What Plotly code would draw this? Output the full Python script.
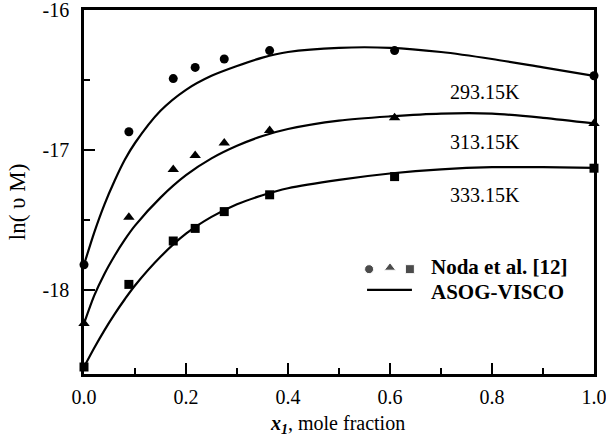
import plotly.graph_objects as go

# Experimental data (Noda et al. [12])
x_exp = [0.0, 0.088, 0.175, 0.218, 0.275, 0.364, 0.609, 1.0]
y_exp_293 = [-17.82, -16.87, -16.49, -16.41, -16.35, -16.29, -16.29, -16.47]
y_exp_313 = [-18.24, -17.48, -17.14, -17.04, -16.95, -16.86, -16.77, -16.81]
y_exp_333 = [-18.55, -17.96, -17.65, -17.56, -17.44, -17.32, -17.19, -17.13]

# ASOG-VISCO calculated curves
x_calc = [0.0, 0.02, 0.04, 0.06, 0.08, 0.10, 0.15, 0.20, 0.25, 0.30, 0.35, 0.40,
          0.50, 0.60, 0.70, 0.80, 0.90, 1.00]
y_calc_293 = [-17.82, -17.59, -17.39, -17.22, -17.07, -16.95, -16.72, -16.57, -16.47,
              -16.40, -16.34, -16.30, -16.27, -16.27, -16.30, -16.35, -16.41, -16.47]
y_calc_313 = [-18.24, -18.04, -17.885, -17.755, -17.64, -17.54, -17.34, -17.18, -17.06,
              -16.97, -16.90, -16.85, -16.79, -16.76, -16.74, -16.74, -16.77, -16.81]
y_calc_333 = [-18.55, -18.414, -18.288, -18.172, -18.066, -17.968, -17.763, -17.598, -17.478,
              -17.388, -17.323, -17.273, -17.213, -17.168, -17.138, -17.123, -17.123, -17.128]

curve_labels = ["293.15K", "313.15K", "333.15K"]
x_ticks = [0.0, 0.2, 0.4, 0.6, 0.8, 1.0]
y_ticks = [-16, -17, -18]

FONT = "Liberation Serif"
fig = go.Figure()

for yc in (y_calc_293, y_calc_313, y_calc_333):
    fig.add_trace(go.Scatter(x=x_calc, y=yc, mode="lines", line=dict(color="black", width=2.2, shape="spline", smoothing=0.8),
                             showlegend=False, hoverinfo="skip"))

for ye, sym, sz in ((y_exp_293, "circle", 9), (y_exp_313, "triangle-up", 10), (y_exp_333, "square", 9)):
    fig.add_trace(go.Scatter(x=x_exp, y=ye, mode="markers", cliponaxis=False,
                             marker=dict(symbol=sym, size=sz, color="black"), showlegend=False))

# legend keys (overlay axis in plot-fraction units)
fig.add_trace(go.Scatter(x=[0.559, 0.600, 0.639], y=[0.288, 0.292, 0.288], mode="markers",
                         marker=dict(symbol=["circle", "triangle-up", "square"], size=[9, 10, 9], color="black"),
                         xaxis="x2", yaxis="y2", showlegend=False, hoverinfo="skip"))
fig.add_trace(go.Scatter(x=[0.555, 0.643], y=[0.231, 0.231], mode="lines", line=dict(color="black", width=2.2),
                         xaxis="x2", yaxis="y2", showlegend=False, hoverinfo="skip"))

annos = [
    dict(x=0.786, y=-16.586, text=curve_labels[0]),
    dict(x=0.786, y=-16.943, text=curve_labels[1]),
    dict(x=0.786, y=-17.32, text=curve_labels[2]),
]
for a in annos:
    fig.add_annotation(x=a["x"], y=a["y"], text=a["text"], showarrow=False, xanchor="center", yanchor="middle",
                       font=dict(family=FONT, size=20, color="black"))

fig.add_annotation(xref="paper", yref="paper", x=0.676, y=0.294, text="<b>Noda et al. [12]</b>", showarrow=False,
                   xanchor="left", yanchor="middle", font=dict(family=FONT, size=21, color="black"))
fig.add_annotation(xref="paper", yref="paper", x=0.676, y=0.224, text="<b>ASOG-VISCO</b>", showarrow=False,
                   xanchor="left", yanchor="middle", font=dict(family=FONT, size=21, color="black"))

fig.add_annotation(xref="paper", yref="paper", x=0.498, y=-0.14, text="<b><i>x<sub>1</sub></i></b>, mole fraction",
                   showarrow=False, xanchor="center", yanchor="middle", font=dict(family=FONT, size=20, color="black"))
fig.add_annotation(xref="paper", yref="paper", x=-0.131, y=0.4725, text="ln( υ M)", textangle=-90,
                   showarrow=False, xanchor="center", yanchor="middle", font=dict(family=FONT, size=23, color="black"))

axis_common = dict(showline=True, linecolor="black", linewidth=2.5, mirror=True, showgrid=False, zeroline=False,
                   ticks="inside", ticklen=11, tickwidth=2, tickcolor="black", automargin=False,
                   ticklabeloverflow="allow", tickfont=dict(family=FONT, size=20, color="black"))

fig.update_layout(
    width=606, height=438, margin=dict(l=84, r=12, t=10, b=64, autoexpand=False),
    plot_bgcolor="white", paper_bgcolor="white", showlegend=False,
    xaxis=dict(range=[0, 1], tickvals=x_ticks, ticktext=[f"{v:.1f}" for v in x_ticks], ticklabelstandoff=3,
               minor=dict(tickvals=[0.1, 0.3, 0.5, 0.7, 0.9], ticks="inside", ticklen=6, tickwidth=2, tickcolor="black"),
               **axis_common),
    yaxis=dict(range=[-18.6, -16], tickvals=y_ticks, ticktext=[str(v) for v in y_ticks], ticklabelstandoff=8,
               minor=dict(tickvals=[-16.5, -17.5], ticks="inside", ticklen=6, tickwidth=2, tickcolor="black"),
               **axis_common),
    xaxis2=dict(range=[0, 1], overlaying="x", visible=False),
    yaxis2=dict(range=[0, 1], overlaying="y", visible=False),
)

fig.write_html("out.html", config={"displayModeBar": False},
               post_script="document.body.style.margin='0';document.body.style.overflow='hidden';")
